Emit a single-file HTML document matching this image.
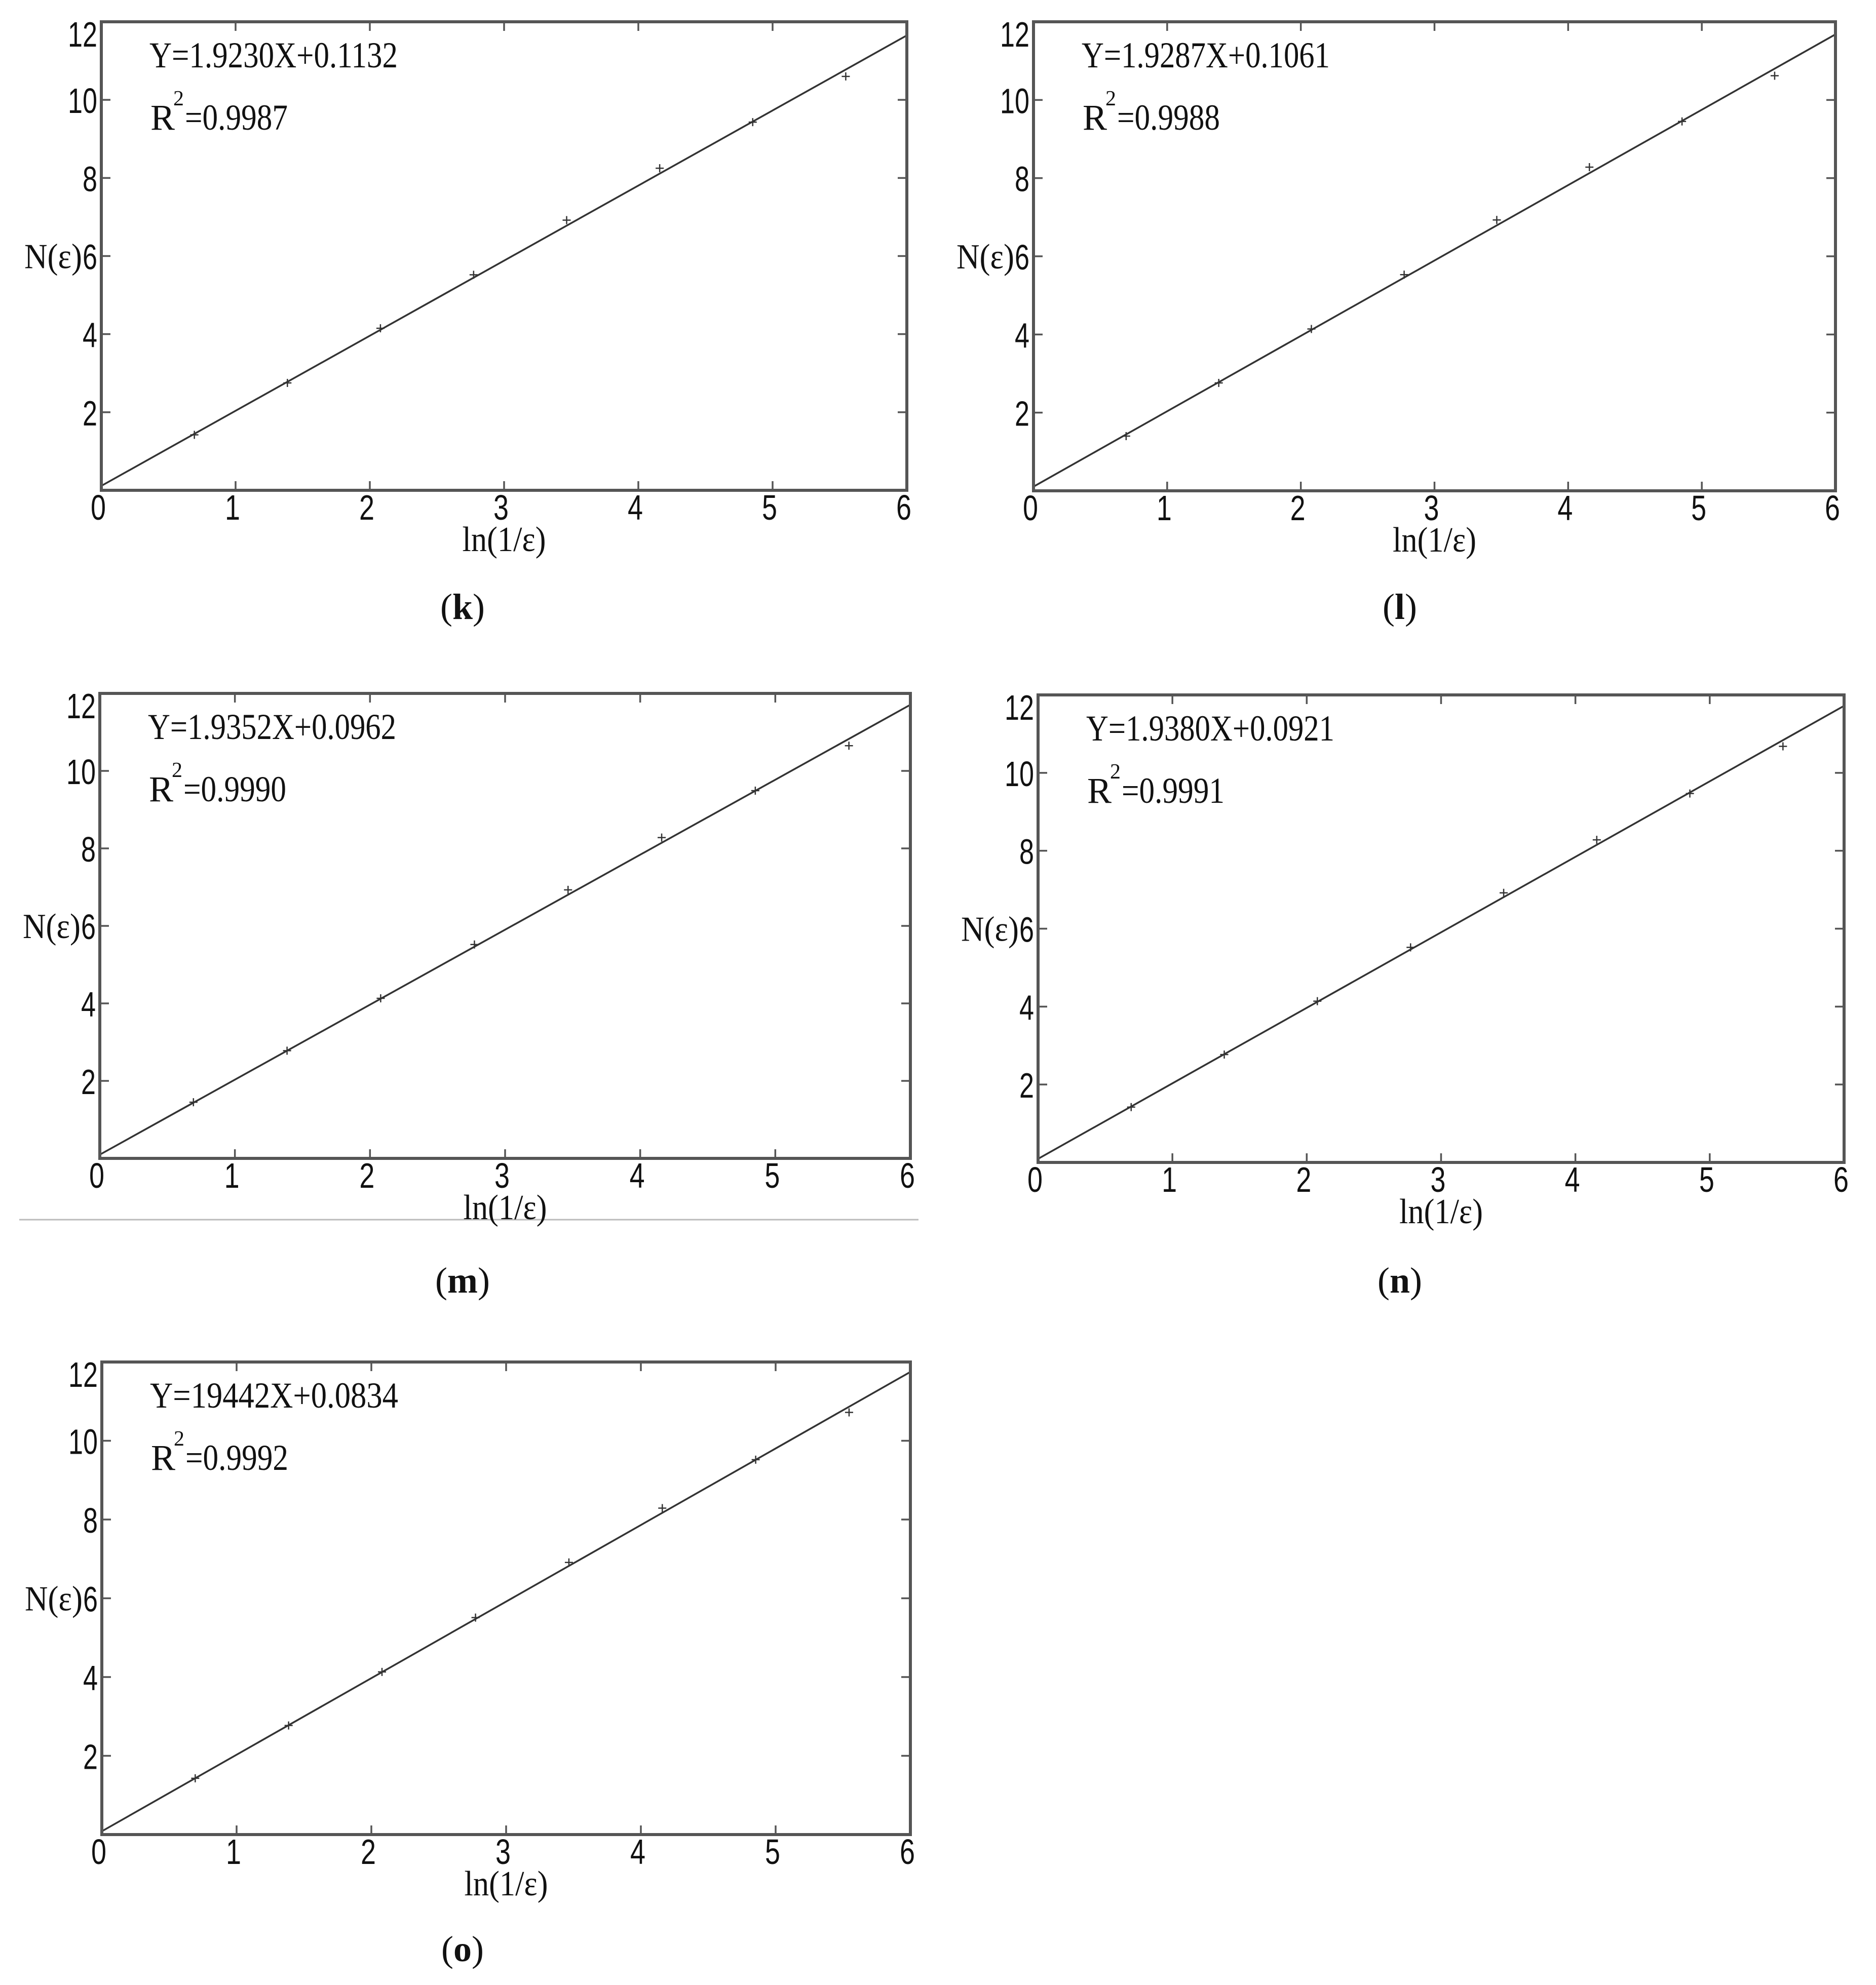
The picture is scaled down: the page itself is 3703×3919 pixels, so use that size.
<!DOCTYPE html>
<html><head><meta charset="utf-8"><style>
html,body{margin:0;padding:0;background:#fff;}
svg{display:block;}
</style></head><body>
<svg id="fig" width="3703" height="3919" viewBox="0 0 3703 3919" xmlns="http://www.w3.org/2000/svg">
<rect x="0" y="0" width="3703" height="3919" fill="#fff"/>
<line x1="38" y1="2408" x2="1813" y2="2408" stroke="#bbb" stroke-width="3"/>
</svg>
<script>
const panelIds = ['k','l','m','n','o'];
const xValues = [0.693,1.386,2.079,2.773,3.466,4.159,4.852,5.545];
const yK = [1.42,2.75,4.15,5.52,6.92,8.25,9.43,10.60];
const yL = [1.40,2.76,4.14,5.53,6.93,8.28,9.45,10.62];
const yM = [1.45,2.78,4.13,5.52,6.93,8.28,9.49,10.65];
const yN = [1.42,2.77,4.14,5.52,6.92,8.28,9.47,10.68];
const yO = [1.43,2.77,4.13,5.51,6.91,8.29,9.52,10.72];
const slopes = [1.9230,1.9287,1.9352,1.9380,1.9442];
const intercepts = [0.1132,0.1061,0.0962,0.0921,0.0834];
const eqLabels = ['Y=1.9230X+0.1132','Y=1.9287X+0.1061','Y=1.9352X+0.0962','Y=1.9380X+0.0921','Y=19442X+0.0834'];
const r2Labels = ['=0.9987','=0.9988','=0.9990','=0.9991','=0.9992'];
const xTicks = [0,1,2,3,4,5,6];
const yTicks = [2,4,6,8,10,12];
const seriesY = [yK,yL,yM,yN,yO];

const frames = [
  {L:200,R:1790,T:43,B:968,cap:[913,1222]},
  {L:2040,R:3623,T:43,B:969,cap:[2763,1222]},
  {L:197,R:1797,T:1369,B:2287,cap:[913,2552]},
  {L:2049,R:3640,T:1372,B:2295,cap:[2763,2552]},
  {L:201,R:1797,T:2689,B:3622,cap:[913,3872]}
];
const NS='http://www.w3.org/2000/svg';
const svg=document.getElementById('fig');
function mk(tag,attrs,parent){const e=document.createElementNS(NS,tag);for(const k in attrs)e.setAttribute(k,attrs[k]);(parent||svg).appendChild(e);return e;}

panelIds.forEach((id,i)=>{
  const f=frames[i];
  const sx=v=>f.L+(v-0)/6*(f.R-f.L);
  const sy=v=>f.B-(v-0)/12*(f.B-f.T);
  const g=mk('g',{});
  
  
  const ln=mk('line',{x1:sx(0),y1:sy(intercepts[i]),x2:sx(6),y2:sy(slopes[i]*6+intercepts[i]),stroke:'#333','stroke-width':3.5},g);
  
  
  xValues.forEach((xv,j)=>{
    const cx=sx(xv), cy=sy(seriesY[i][j]);
    const p=mk('path',{d:`M${cx-8},${cy}H${cx+8}M${cx},${cy-8}V${cy+8}`,stroke:'#333','stroke-width':2.5,fill:'none'},g);
    
    
  });
  const fr=mk('rect',{x:f.L,y:f.T,width:f.R-f.L,height:f.B-f.T,fill:'none',stroke:'#555','stroke-width':6},g);
  
  
  xTicks.forEach(t=>{
    const x=sx(t);
    if(t>0&&t<6){
      mk('line',{x1:x,y1:f.B,x2:x,y2:f.B-18,stroke:'#555','stroke-width':3.5},g);
      mk('line',{x1:x,y1:f.T,x2:x,y2:f.T+18,stroke:'#555','stroke-width':3.5},g);
    }
    const tx=mk('text',{x:x-6,y:f.B+58,'text-anchor':'middle','font-family':'Liberation Sans, sans-serif','font-size':70,fill:'#111',textLength:30,lengthAdjust:'spacingAndGlyphs'},g);
    tx.textContent=t;
    
    
  });
  yTicks.forEach(t=>{
    const y=sy(t);
    if(t<12){
      mk('line',{x1:f.L,y1:y,x2:f.L+18,y2:y,stroke:'#555','stroke-width':3.5},g);
      mk('line',{x1:f.R,y1:y,x2:f.R-18,y2:y,stroke:'#555','stroke-width':3.5},g);
    }
    const s=String(t);
    const by = t===12 ? f.T+49 : y+26;
    const ty=mk('text',{x:f.L-8,y:by,'text-anchor':'end','font-family':'Liberation Sans, sans-serif','font-size':70,fill:'#111',textLength:29*s.length,lengthAdjust:'spacingAndGlyphs'},g);
    ty.textContent=s;
    
    
  });
  const yt=mk('text',{x:f.L-152,y:sy(6)+24,'font-family':'Liberation Serif, serif','font-size':70,fill:'#111',textLength:114,lengthAdjust:'spacingAndGlyphs'},g);
  yt.textContent='N(ε)';
  
  
  const xt=mk('text',{x:(f.L+f.R)/2,y:f.B+120,'text-anchor':'middle','font-family':'Liberation Serif, serif','font-size':70,fill:'#111',textLength:165,lengthAdjust:'spacingAndGlyphs'},g);
  xt.textContent='ln(1/ε)';
  
  
  const eq=mk('text',{x:f.L+95,y:f.T+90,'font-family':'Liberation Serif, serif','font-size':72,fill:'#111',textLength:490,lengthAdjust:'spacingAndGlyphs'},g);
  eq.textContent=eqLabels[i];
  
  
  const r=mk('text',{x:f.L+97,y:f.T+213,'font-family':'Liberation Serif, serif','font-size':72,fill:'#111'},g);
  r.textContent='R';
  
  
  const sup=mk('text',{x:f.L+142,y:f.T+165,'font-family':'Liberation Serif, serif','font-size':42,fill:'#111'},g);
  sup.textContent='2';
  
  
  const rv=mk('text',{x:f.L+165,y:f.T+213,'font-family':'Liberation Serif, serif','font-size':72,fill:'#111',textLength:203,lengthAdjust:'spacingAndGlyphs'},g);
  rv.textContent=r2Labels[i];
  
  
  const cap=mk('text',{x:f.cap[0],y:f.cap[1],'text-anchor':'middle','font-family':'Liberation Serif, serif','font-size':72,fill:'#111'},g);
  
  
  cap.appendChild(document.createTextNode('('));
  const b=mk('tspan',{'font-weight':'bold'},cap);
  b.textContent=id;
  cap.appendChild(document.createTextNode(')'));
});
</script>
</body></html>
